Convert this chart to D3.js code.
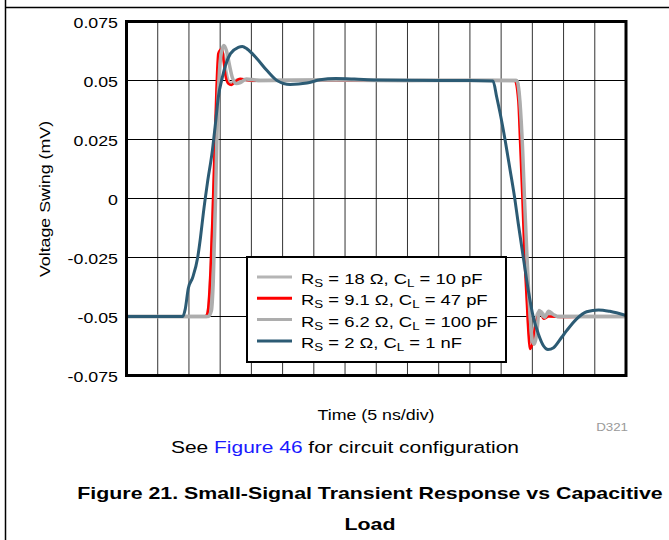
<!DOCTYPE html>
<html>
<head>
<meta charset="utf-8">
<script src="https://cdn.jsdelivr.net/npm/d3@7"></script>
<style>
  body { margin: 0; background: #fff; }
  text { font-family: Arial, "Liberation Sans", sans-serif; }
</style>
</head>
<body>
<script>
// time in ns (5 ns/div, 16 divs), voltage swing values
const yTicks = [-0.075, -0.05, -0.025, 0, 0.025, 0.05, 0.075];
const yTickLabels = ["-0.075", "-0.05", "-0.025", "0", "0.025", "0.05", "0.075"];
const xGrid = d3.range(0, 81, 5);

const legendLabels = [
  ["S", " = 18 \u03A9, C", "L", " = 10 pF"],
  ["S", " = 9.1 \u03A9, C", "L", " = 47 pF"],
  ["S", " = 6.2 \u03A9, C", "L", " = 100 pF"],
  ["S", " = 2 \u03A9, C", "L", " = 1 nF"]
];
const seriesColors = ["#b5b5b5", "#ff0000", "#adadad", "#2c5b74"];

const rs18 = [[0,-0.05],[12.8,-0.05],[13.2,-0.046],[13.6,-0.028],[14.0,0.002],[14.4,0.035],[14.8,0.057],
  [15.2,0.0622],[15.55,0.0605],[15.95,0.0535],[16.5,0.0488],[17.1,0.0489],[17.8,0.0503],[18.6,0.0504],
  [20,0.05],[30,0.0502],[40,0.05],[50,0.0501],[62.4,0.05],[62.9,0.042],[63.3,0.02],[63.7,-0.005],
  [64.1,-0.035],[64.5,-0.056],[64.85,-0.061],[65.3,-0.056],[65.8,-0.049],[66.3,-0.0478],[67.0,-0.0497],
  [67.8,-0.0492],[69,-0.05],[80,-0.05]];

const rs91 = [[0,-0.05],[12.6,-0.05],[12.95,-0.0487],[13.45,-0.0305],[13.75,-0.0093],[14.0,0.0119],
  [14.15,0.0246],[14.4,0.0458],[14.7,0.0614],[15.05,0.0631],[15.3,0.0636],[15.55,0.0585],[15.85,0.0521],
  [16.3,0.0487],[16.8,0.0481],[17.45,0.0496],[18.2,0.0507],[19.2,0.0502],[20.6,0.0499],[25,0.0501],
  [40,0.05],[55,0.05],[62.2,0.05],[62.75,0.0415],[63.05,0.0232],[63.4,0.0006],[63.75,-0.025],
  [64.1,-0.0432],[64.35,-0.056],[64.6,-0.0638],[65.0,-0.0616],[65.45,-0.0545],[65.95,-0.0496],
  [66.35,-0.0488],[66.8,-0.051],[67.6,-0.05],[70,-0.0502],[75,-0.05],[80,-0.05]];

const rs62 = [[0,-0.05],[13.1,-0.05],[13.6,-0.0475],[13.9,-0.0347],[14.25,-0.0008],[14.55,0.0331],
  [14.9,0.0543],[15.2,0.0619],[15.6,0.0648],[16.0,0.0627],[16.5,0.0564],[16.95,0.0513],[17.6,0.0487],
  [18.25,0.0491],[19.2,0.0506],[20.15,0.0504],[21.4,0.05],[35,0.0502],[45,0.05],[62.5,0.05],[63.0,0.0415],
  [63.45,0.0203],[63.75,-0.0008],[64.1,-0.022],[64.4,-0.039],[64.7,-0.0517],[65.0,-0.0602],[65.3,-0.0618],
  [65.7,-0.0575],[66.1,-0.0475],[66.6,-0.0495],[67.0,-0.0503],[67.6,-0.0478],[68.3,-0.049],[69,-0.05],[80,-0.05]];

const rs2 = [[0,-0.05],[9.0,-0.05],[9.4,-0.047],[9.9,-0.038],[10.6,-0.0335],[11.4,-0.025],[11.85,-0.0165],
  [12.3,-0.0064],[12.95,0.0064],[13.75,0.0203],[14.25,0.0318],[14.7,0.0428],[15.35,0.0513],[15.85,0.0564],
  [16.65,0.0614],[17.9,0.064],[18.55,0.0644],[19.3,0.0634],[20.9,0.0592],[22.5,0.0542],[24.1,0.05],
  [26.2,0.0483],[28.9,0.0489],[31.0,0.0503],[33.5,0.0508],[36.5,0.0506],[40,0.0502],[45,0.0501],[50,0.05],
  [55,0.05],[58.7,0.0498],[59.3,0.0429],[59.85,0.036],[60.65,0.0246],[61.45,0.0119],[62.15,0.0006],
  [62.75,-0.0107],[63.55,-0.0249],[64.35,-0.0389],[65.15,-0.0503],[65.95,-0.0573],[66.8,-0.0625],
  [67.5,-0.064],[68.4,-0.0632],[69.7,-0.0588],[70.5,-0.056],[72.1,-0.051],[73.7,-0.048],[75.6,-0.0472],
  [77.4,-0.0478],[80,-0.0496]];

const series = [rs18, rs91, rs62, rs2];

const W = 669, H = 540;
const k = 1.27; // horizontal stretch of the text

const svg = d3.select("body").append("svg")
  .attr("width", W).attr("height", H);

// page rules
svg.append("line").attr("x1", 5.5).attr("x2", 5.5).attr("y1", 0).attr("y2", H)
  .attr("stroke", "#000").attr("stroke-width", 1.5);
svg.append("line").attr("x1", 5).attr("x2", W).attr("y1", 7.5).attr("y2", 7.5)
  .attr("stroke", "#000").attr("stroke-width", 1.5);

const x = d3.scaleLinear().domain([0, 80]).range([126.5, 626]);
const y = d3.scaleLinear().domain([-0.075, 0.075]).range([375.5, 21.5]);

// grid
svg.append("g").selectAll("line").data(xGrid).enter().append("line")
  .attr("x1", d => x(d)).attr("x2", d => x(d))
  .attr("y1", y(0.075)).attr("y2", y(-0.075))
  .attr("stroke", "#333").attr("stroke-width", 1);
svg.append("g").selectAll("line").data(yTicks).enter().append("line")
  .attr("x1", x(0)).attr("x2", x(80))
  .attr("y1", d => y(d)).attr("y2", d => y(d))
  .attr("stroke", "#000").attr("stroke-width", 1);

// y axis labels
const yAxis = svg.append("g")
  .attr("transform", `translate(${x(0)},0)`)
  .call(d3.axisLeft(y).tickValues(yTicks).tickSize(0).tickPadding(6.7)
    .tickFormat((d, i) => yTickLabels[i]));
yAxis.select(".domain").remove();
yAxis.selectAll("text")
  .attr("font-size", 14).attr("font-family", "Arial, 'Liberation Sans', sans-serif")
  .attr("fill", "#000").attr("dy", "0.42em")
  .attr("transform", `scale(${k},1)`);

// traces
const line = d3.line().x(d => x(d[0])).y(d => y(d[1])).curve(d3.curveMonotoneX);
const widths = [3.5, 2.5, 3.5, 3];
svg.append("g").selectAll("path").data(series).enter().append("path")
  .attr("d", line)
  .attr("fill", "none")
  .attr("stroke", (d, i) => seriesColors[i])
  .attr("stroke-width", (d, i) => widths[i])
  .attr("stroke-linejoin", "round");

// frame
svg.append("rect")
  .attr("x", x(0)).attr("y", y(0.075))
  .attr("width", x(80) - x(0)).attr("height", y(-0.075) - y(0.075))
  .attr("fill", "none").attr("stroke", "#000").attr("stroke-width", 3);

// legend
const lg = svg.append("g");
lg.append("rect").attr("x", 247).attr("y", 257).attr("width", 259).attr("height", 105)
  .attr("fill", "#fff").attr("stroke", "#000").attr("stroke-width", 2);
legendLabels.forEach((lab, i) => {
  const ly = 277 + i * 21.3;
  lg.append("line").attr("x1", 257).attr("x2", 292).attr("y1", ly).attr("y2", ly)
    .attr("stroke", seriesColors[i]).attr("stroke-width", 3);
  const t = lg.append("text")
    .attr("transform", `translate(301,${ly + 7}) scale(${k},1)`)
    .attr("font-size", 14.5).attr("fill", "#000");
  t.append("tspan").text("R");
  t.append("tspan").attr("font-size", 10.5).attr("dy", 3).text(lab[0]);
  t.append("tspan").attr("dy", -3).text(lab[1]);
  t.append("tspan").attr("font-size", 10.5).attr("dy", 3).text(lab[2]);
  t.append("tspan").attr("dy", -3).text(lab[3]);
});

// axis titles
svg.append("text")
  .attr("transform", `translate(50,199) rotate(-90) scale(${k},1)`)
  .attr("text-anchor", "middle").attr("font-size", 14)
  .text("Voltage Swing (mV)");
svg.append("text")
  .attr("transform", `translate(376,420) scale(${k},1)`)
  .attr("text-anchor", "middle").attr("font-size", 14)
  .text("Time (5 ns/div)");
svg.append("text")
  .attr("transform", `translate(628,431) scale(${k},1)`)
  .attr("text-anchor", "end").attr("font-size", 10.5).attr("fill", "#9a9a9a")
  .text("D321");

// notes and caption
const note = svg.append("text")
  .attr("transform", `translate(345,453) scale(${k},1)`)
  .attr("text-anchor", "middle").attr("font-size", 16.5);
note.append("tspan").text("See ");
note.append("tspan").attr("fill", "#1a1aff").text("Figure 46");
note.append("tspan").text(" for circuit configuration");

svg.append("text")
  .attr("transform", `translate(370,499) scale(${k},1)`)
  .attr("text-anchor", "middle").attr("font-size", 16.8).attr("font-weight", "bold")
  .text("Figure 21. Small-Signal Transient Response vs Capacitive");
svg.append("text")
  .attr("transform", `translate(370,530) scale(${k},1)`)
  .attr("text-anchor", "middle").attr("font-size", 16.8).attr("font-weight", "bold")
  .text("Load");
</script>
</body>
</html>
